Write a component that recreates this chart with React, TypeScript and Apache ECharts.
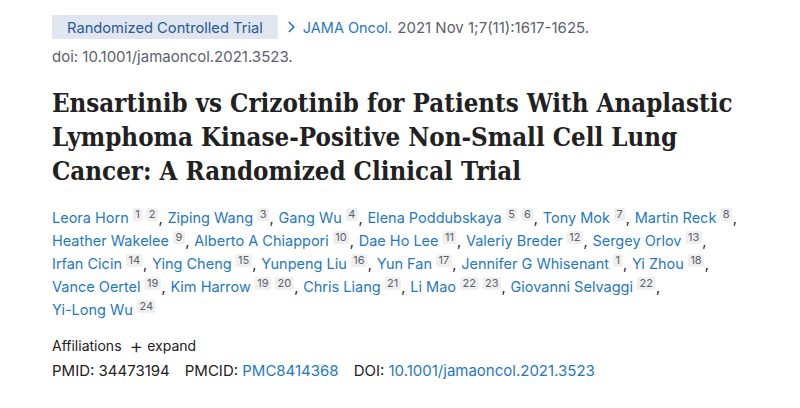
import React, { useEffect, useRef } from "react";
import * as echarts from "echarts";

const badgeText = "Randomized Controlled Trial";
const journalName = "JAMA Oncol.";
const citationText = "2021 Nov 1;7(11):1617-1625.";
const doiLineText = "doi: 10.1001/jamaoncol.2021.3523.";
const titleLines = [
  "Ensartinib vs Crizotinib for Patients With Anaplastic",
  "Lymphoma Kinase-Positive Non-Small Cell Lung",
  "Cancer: A Randomized Clinical Trial",
];
const authorNames = [
  "Leora Horn", "Ziping Wang", "Gang Wu", "Elena Poddubskaya", "Tony Mok", "Martin Reck",
  "Heather Wakelee", "Alberto A Chiappori", "Dae Ho Lee", "Valeriy Breder", "Sergey Orlov",
  "Irfan Cicin", "Ying Cheng", "Yunpeng Liu", "Yun Fan", "Jennifer G Whisenant", "Yi Zhou",
  "Vance Oertel", "Kim Harrow", "Chris Liang", "Li Mao", "Giovanni Selvaggi",
  "Yi-Long Wu",
];
const authorAffiliations = [
  [1, 2], [3], [4], [5, 6], [7], [8],
  [9], [10], [11], [12], [13],
  [14], [15], [16], [17], [1], [18],
  [19], [19, 20], [21], [22, 23], [22],
  [24],
];
const authorLineStarts = [0, 6, 11, 17, 22];
const affiliationsLabel = "Affiliations";
const expandLabel = "expand";
const pmidLabel = "PMID: 34473194";
const pmcidLabel = "PMCID:";
const pmcidValue = "PMC8414368";
const doiLabel = "DOI:";
const doiValue = "10.1001/jamaoncol.2021.3523";

const BLUE = "#1f78c4";
const DARK = "#212121";
const GRAY = "#5b616b";
const BODY = "Inter";
const SERIF = "DejaVu Serif";

export default function App() {
  const ref = useRef<HTMLDivElement>(null);
  useEffect(() => {
    if (!ref.current) return;
    const chart = echarts.init(ref.current, null, { renderer: "svg" });
    const measure = (t: string, size: number, family = BODY, weight = "normal") => {
      const el = new echarts.graphic.Text({
        style: { text: t, fontSize: size, fontFamily: family, fontWeight: weight as any },
      });
      return el.getBoundingRect().width;
    };
    const g: any[] = [];
    const text = (
      x: number,
      baseline: number,
      t: string,
      size: number,
      color: string,
      family = BODY,
      weight = "normal",
      extra: any = {}
    ) => {
      g.push({
        type: "text",
        x,
        y: baseline - 0.36 * size,
        ...extra,
        style: {
          text: t,
          fontSize: size,
          fontFamily: family,
          fontWeight: weight,
          fill: color,
          align: "left",
          verticalAlign: "middle",
        },
      });
    };

    const FS = 15; // digit-heavy text
    const LS = 14.5; // letter-heavy text

    // Header row
    const BS = 14.7;
    const badgeW = measure(badgeText, BS) + 30;
    g.push({
      type: "rect",
      shape: { x: 52, y: 15, width: badgeW, height: 24 },
      style: { fill: "#dfe6ef" },
    });
    text(67, 33, badgeText, BS, "#2b5797");
    const chevX = 52 + badgeW + 11;
    g.push({
      type: "polyline",
      shape: { points: [[chevX, 22], [chevX + 5, 27], [chevX, 32]] },
      style: { stroke: BLUE, lineWidth: 1.6, fill: "none" },
    });
    const jx = chevX + 14;
    text(jx, 33, journalName, LS, BLUE);
    const cx = jx + measure(journalName, LS) + 5;
    text(cx, 33, citationText, FS, GRAY);
    text(52, 62, doiLineText, FS, GRAY);

    // Title
    const TS = 26;
    const sx = 681 / measure(titleLines[0], TS, SERIF, "bold");
    const titleBaselines = [112, 146, 180];
    titleLines.forEach((line, i) =>
      text(52, titleBaselines[i], line, TS, DARK, SERIF, "bold", { scaleX: sx })
    );

    // Authors
    const SUP = 11;
    authorLineStarts.forEach((start, li) => {
      const end = li + 1 < authorLineStarts.length ? authorLineStarts[li + 1] : authorNames.length;
      const baseline = 223 + li * 23;
      let x = 52;
      for (let i = start; i < end; i++) {
        const name = authorNames[i];
        text(x, baseline, name, LS, BLUE);
        x += measure(name, LS) + 4;
        authorAffiliations[i].forEach((a, k) => {
          const s = String(a);
          const bw = measure(s, SUP) + 5;
          g.push({
            type: "rect",
            shape: { x, y: baseline - 15, width: bw, height: 13, r: 2 },
            style: { fill: "#efefef" },
          });
          g.push({
            type: "text",
            x: x + bw / 2,
            y: baseline - 5 - 0.36 * SUP,
            style: {
              text: s,
              fontSize: SUP,
              fontFamily: BODY,
              fill: GRAY,
              align: "center",
              verticalAlign: "middle",
            },
          });
          x += bw + (k < authorAffiliations[i].length - 1 ? 4 : 0.5);
        });
        if (i < authorNames.length - 1) {
          text(x, baseline, ",", LS, DARK);
          x += 9;
        }
      }
    });

    // Affiliations
    const AS = 14;
    text(52, 351, affiliationsLabel, AS, DARK);
    const plusX = 52 + measure(affiliationsLabel, AS) + 8;
    text(plusX, 353, "+", 21, DARK, BODY, "300");
    text(plusX + measure("+", 21, BODY, "300") + 4, 351, expandLabel, AS, DARK);

    // IDs
    let px = 52;
    text(px, 376, pmidLabel, FS, DARK);
    px += measure(pmidLabel, FS) + 15;
    text(px, 376, pmcidLabel, FS, DARK);
    px += measure(pmcidLabel + " ", FS);
    text(px, 376, pmcidValue, FS, BLUE);
    px += measure(pmcidValue, FS) + 15;
    text(px, 376, doiLabel, FS, DARK);
    px += measure(doiLabel + " ", FS);
    text(px, 376, doiValue, FS, BLUE);

    chart.setOption({
      animation: false,
      backgroundColor: "#ffffff",
      graphic: { elements: g },
    });
    return () => chart.dispose();
  }, []);
  return (
    <div
      ref={ref}
      style={{ position: "fixed", left: 0, top: 0, width: 800, height: 408, background: "#fff" }}
    />
  );
}
